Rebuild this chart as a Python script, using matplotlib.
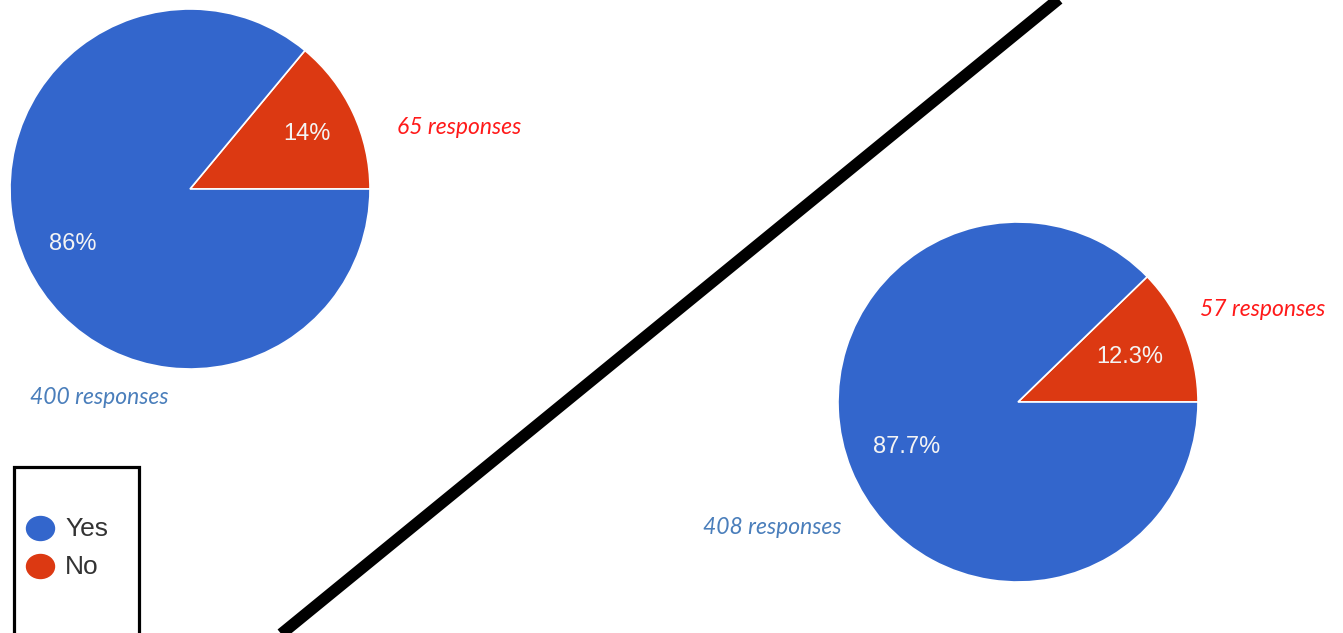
import matplotlib.pyplot as plt
from matplotlib.patches import Ellipse, Rectangle

# survey answers, two questions
labels = ["No", "Yes"]
counts_left = [65, 400]
counts_right = [57, 408]
legend_labels = ["Yes", "No"]

blue = "#3366cc"
red = "#dc3912"
colors = [red, blue]

W, H = 1343, 633
fig = plt.figure(figsize=(W / 100, H / 100), dpi=100)
ax = fig.add_axes([0, 0, 1, 1])
ax.set_xlim(0, W)
ax.set_ylim(0, H)
ax.set_aspect("equal")
ax.axis("off")


def draw_pie(counts, center, fmt, pctdist):
    wedges, texts, autotexts = ax.pie(
        counts, colors=colors, startangle=0, counterclock=True,
        center=center, radius=180, autopct=fmt, pctdistance=pctdist,
        wedgeprops=dict(edgecolor="white", linewidth=1.2),
        textprops=dict(color="#f4f4f4", fontsize=17, family="Liberation Sans"),
    )
    return wedges


draw_pie(counts_left, (190, H - 189), "%.0f%%", 0.72)
draw_pie(counts_right, (1018, H - 402), "%.1f%%", 0.67)

# response counts
resp_font = dict(family="Lato", style="italic", fontsize=16.5, ha="center", va="center")
ax.text(459, H - 128, f"{counts_left[0]} responses", color="#ff1a1a", **resp_font)
ax.text(99, H - 397, f"{counts_left[1]} responses", color="#4a7ebb", **resp_font)
ax.text(1263, H - 310, f"{counts_right[0]} responses", color="#ff1a1a", **resp_font)
ax.text(772, H - 528, f"{counts_right[1]} responses", color="#4a7ebb", **resp_font)

# diagonal separator
ax.plot([258, 1082], [-20, H + 20], color="black", lw=8.4, solid_capstyle="butt")

# hand made legend box
ax.add_patch(Rectangle((14, -20), 125, H - 466.5 + 20, fill=False,
                       edgecolor="black", lw=2.3))
for i, lab in enumerate(legend_labels):
    y = H - (528.5 + 38 * i)
    c = blue if lab == "Yes" else red
    ax.add_patch(Ellipse((40.5, y), 28, 24, color=c))
    ax.text(65, y, lab, fontsize=19, family="Liberation Sans", color="#333333",
            va="center", ha="left")

ax.set_xlim(0, W)
ax.set_ylim(0, H)
fig.savefig("out.png", dpi=100)
